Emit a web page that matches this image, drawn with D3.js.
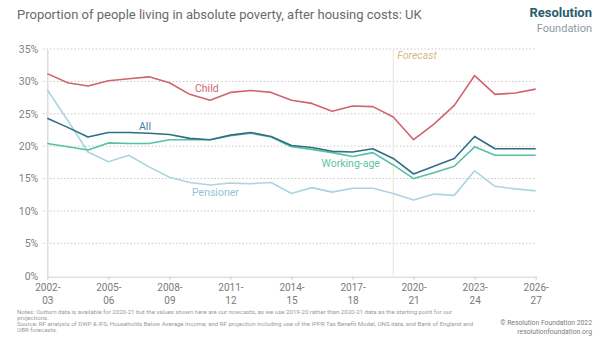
<!DOCTYPE html>
<html>
<head>
<meta charset="utf-8">
<script src="https://cdn.jsdelivr.net/npm/d3@7"></script>
<style>
	body{margin:0;background:#ffffff;}
	svg{display:block;font-family:Roboto, "Open Sans", sans-serif;}
</style>
</head>
<body>
<div id="ChartPart"></div>
<script>
//Data for the chart------------------------------------------------------------------------------
var YearLabels = ["2002-03","2003-04","2004-05","2005-06","2006-07","2007-08","2008-09","2009-10","2010-11","2011-12","2012-13","2013-14","2014-15","2015-16","2016-17","2017-18","2018-19","2019-20","2020-21","2021-22","2022-23","2023-24","2024-25","2025-26","2026-27"];
var ChildValues = [31.2,29.8,29.3,30.1,30.4,30.7,29.8,28.0,27.1,28.3,28.6,28.3,27.1,26.6,25.4,26.2,26.1,24.5,21.0,23.4,26.3,30.9,28.0,28.2,28.8];
var AllValues = [24.3,22.9,21.4,22.1,22.1,22.0,21.8,21.2,21.0,21.7,22.1,21.5,20.1,19.8,19.2,19.1,19.6,18.1,15.7,16.9,18.1,21.5,19.6,19.6,19.6];
var WorkingAgeValues = [20.4,19.9,19.4,20.5,20.4,20.4,21.0,21.0,21.0,21.6,22.0,21.4,19.9,19.5,19.0,18.4,19.0,17.1,15.0,15.9,16.9,19.9,18.6,18.6,18.6];
var PensionerValues = [28.7,24.0,19.1,17.6,18.6,16.8,15.2,14.4,14.0,14.3,14.2,14.4,12.7,13.6,12.9,13.5,13.5,12.7,11.7,12.6,12.4,16.2,13.8,13.4,13.1];
var YTicks = [0,5,10,15,20,25,30,35];
var ForecastStart = "2019-20";

var ChartWidth = 602;
var ChartHeight = 339;

var xScale = d3.scaleLinear().domain([0,YearLabels.length-1]).range([47.3,535.7]);
var yScale = d3.scaleLinear().domain([0,35]).range([275.7,49]);

var ChartSvg = d3.select("#ChartPart")
	.append("svg")
	.attr("width",ChartWidth)
	.attr("height",ChartHeight);

//Title and logo----------------------------------------------------------------------------------
ChartSvg.append("text")
	.attr("x",17)
	.attr("y",19)
	.text("Proportion of people living in absolute poverty, after housing costs: UK")
	.style("font-size","13px")
	.style("fill","#6a6a6a");

ChartSvg.append("text")
	.attr("x",592)
	.attr("y",17)
	.attr("text-anchor","end")
	.text("Resolution")
	.style("font-size","13px")
	.style("font-weight","bold")
	.style("fill","#2a5d6c");

ChartSvg.append("text")
	.attr("x",592)
	.attr("y",31.5)
	.attr("text-anchor","end")
	.text("Foundation")
	.style("font-size","11px")
	.style("fill","#8c9a9e");

//Gridlines and axes------------------------------------------------------------------------------
ChartSvg.append("g")
	.selectAll("line")
	.data(YTicks.filter(function(d){return d>0;}))
	.enter()
	.append("line")
	.attr("x1",43)
	.attr("x2",xScale(YearLabels.length-1))
	.attr("y1",function(d){return yScale(d);})
	.attr("y2",function(d){return yScale(d);})
	.style("stroke","#c8c8c8")
	.style("stroke-width",1)
	.style("stroke-dasharray","1.5,2");

var yAxis = d3.axisLeft(yScale)
	.tickValues(YTicks)
	.tickSize(0)
	.tickPadding(9)
	.tickFormat(function(d){return d + "%";});

ChartSvg.append("g")
	.attr("transform","translate(" + xScale(0) + ",0)")
	.call(yAxis)
	.call(function(g){
		g.select(".domain").style("stroke","#dddddd").style("stroke-width",1.5);
		g.selectAll("text").style("font-size","10.5px").style("fill","#808080").style("font-family","Roboto, sans-serif");
	});

var xAxis = d3.axisBottom(xScale)
	.tickValues(d3.range(0,YearLabels.length,3))
	.tickSize(3)
	.tickSizeOuter(0)
	.tickFormat("");

var xAxisGroup = ChartSvg.append("g")
	.attr("transform","translate(0," + 276.7 + ")")
	.call(xAxis);

xAxisGroup.select(".domain").style("stroke","#d0d0d0");
xAxisGroup.selectAll(".tick line").style("stroke","#c8c8c8");

var TickText = xAxisGroup.selectAll(".tick")
	.append("text")
	.attr("text-anchor","middle")
	.style("font-size","10px")
	.style("fill","#7a7a7a")
	.style("font-family","Roboto, sans-serif");

TickText.append("tspan")
	.attr("x",0)
	.attr("y",14)
	.text(function(d){return YearLabels[d].split("-")[0] + "-";});

TickText.append("tspan")
	.attr("x",0)
	.attr("y",27)
	.text(function(d){return YearLabels[d].split("-")[1];});

//Forecast marker---------------------------------------------------------------------------------
var ForecastIndex = YearLabels.indexOf(ForecastStart);
ChartSvg.append("line")
	.attr("x1",xScale(ForecastIndex))
	.attr("x2",xScale(ForecastIndex))
	.attr("y1",yScale(35))
	.attr("y2",yScale(0))
	.style("stroke","#efe3cf")
	.style("stroke-width",1);

ChartSvg.append("text")
	.attr("x",xScale(ForecastIndex)+4)
	.attr("y",59)
	.text("Forecast")
	.style("font-size","10.5px")
	.style("font-style","italic")
	.style("fill","#d8b87c");

//Series lines------------------------------------------------------------------------------------
var SeriesList = [
	{name:"Pensioner",values:PensionerValues,color:"#acd4e1",label:"#92c4d6",lx:192,ly:196},
	{name:"Working-age",values:WorkingAgeValues,color:"#55c1a0",label:"#5dc3a2",lx:321.5,ly:167},
	{name:"All",values:AllValues,color:"#2f6f86",label:"#3f82a0",lx:139,ly:129.5},
	{name:"Child",values:ChildValues,color:"#d0636e",label:"#cc6670",lx:195,ly:91.5}
];

var LineMaker = d3.line()
	.x(function(d,i){return xScale(i);})
	.y(function(d){return yScale(d);});

ChartSvg.append("g")
	.selectAll("path")
	.data(SeriesList)
	.enter()
	.append("path")
	.attr("d",function(d){return LineMaker(d.values);})
	.style("fill","none")
	.style("stroke",function(d){return d.color;})
	.style("stroke-width",1.6)
	.style("stroke-linejoin","round");

ChartSvg.append("g")
	.selectAll("text")
	.data(SeriesList)
	.enter()
	.append("text")
	.attr("x",function(d){return d.lx;})
	.attr("y",function(d){return d.ly;})
	.text(function(d){return d.name;})
	.style("font-size","10.5px")
	.style("fill",function(d){return d.label;});

//Notes and source--------------------------------------------------------------------------------
var NoteLines = [
	"Notes: Outturn data is available for 2020-21 but the values shown here are our nowcasts, as we use 2019-20 rather than 2020-21 data as the starting point for our",
	"projections.",
	"Source: RF analysis of DWP & IFS, Households Below Average Income; and RF projection including use of the IPPR Tax Benefit Model, ONS data, and Bank of England and",
	"OBR forecasts."
];

ChartSvg.append("g")
	.selectAll("text")
	.data(NoteLines)
	.enter()
	.append("text")
	.attr("x",17)
	.attr("y",function(d,i){return 313.5 + i*6.3;})
	.text(function(d){return d;})
	.style("font-size","6.1px")
	.style("fill","#9a9a9a");

ChartSvg.append("text")
	.attr("x",592)
	.attr("y",325)
	.attr("text-anchor","end")
	.text("\u00A9 Resolution Foundation 2022")
	.style("font-size","6.8px")
	.style("fill","#7a7a7a");

ChartSvg.append("text")
	.attr("x",592)
	.attr("y",333.5)
	.attr("text-anchor","end")
	.text("resolutionfoundation.org")
	.style("font-size","6.8px")
	.style("fill","#7a7a7a");
</script>
</body>
</html>
